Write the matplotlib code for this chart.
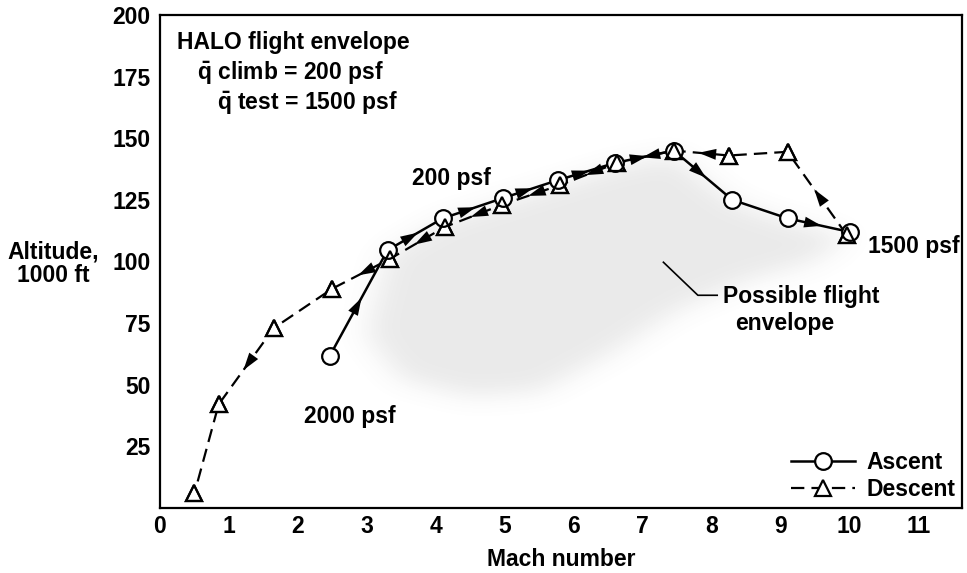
import numpy as np
import matplotlib
matplotlib.use("Agg")
import matplotlib.pyplot as plt
from matplotlib.path import Path

# ---------------- data ----------------
ascent_mach = [2.46, 3.30, 4.10, 4.97, 5.77, 6.60, 7.45, 8.30, 9.10, 10.00]
ascent_alt = [61.6, 104.6, 117.5, 125.7, 133.0, 140.0, 145.0, 125.0, 117.5, 112.0]

descent_mach = [9.96, 9.10, 8.25, 7.45, 6.63, 5.80, 4.96, 4.13, 3.33, 2.50, 1.65, 0.85, 0.50]
descent_alt = [110.7, 144.5, 143.0, 145.0, 140.0, 131.0, 123.0, 114.0, 101.0, 89.0, 73.0, 42.0, 6.0]

# segments (in travel order) that carry a direction arrow
ascent_arrow_segments = [0, 1, 2, 3, 4, 5, 6, 8]
descent_arrow_segments = [0, 2, 3, 4, 5, 6, 7, 8, 10]

# outline of the shaded "possible flight envelope"
envelope_mach = [3.3, 4.1, 5.0, 5.8, 6.6, 7.45, 8.3, 9.1, 10.0, 9.5, 8.5, 7.5, 6.5, 5.5, 4.5, 3.5, 3.0]
envelope_alt = [103, 116, 124, 131, 138, 143, 124, 116, 110, 100, 92, 80, 62, 47, 45, 52, 70]

x_ticks = list(range(0, 12))
y_ticks = [25, 50, 75, 100, 125, 150, 175, 200]

# ---------------- style ----------------
plt.rcParams['font.family'] = ['Liberation Sans', 'DejaVu Sans']
plt.rcParams['font.weight'] = 'bold'
plt.rcParams['mathtext.fontset'] = 'custom'
plt.rcParams['mathtext.rm'] = 'Liberation Sans:bold'
plt.rcParams['mathtext.bf'] = 'Liberation Sans:bold'
plt.rcParams['mathtext.it'] = 'Liberation Sans:bold'
FS = 16.5

fig = plt.figure(figsize=(9.67, 5.73), dpi=100)
ax = fig.add_axes([160/967, 1-508/573, 802/967, 493/573])
ax.set_xlim(0, 11.63)
ax.set_ylim(0, 200)

# shaded envelope (blurred polygon)
gx = np.linspace(1.5, 11.5, 400)
gy = np.linspace(10, 170, 320)
XX, YY = np.meshgrid(gx, gy)
poly = Path(np.column_stack([envelope_mach, envelope_alt]))
mask = poly.contains_points(np.column_stack([XX.ravel(), YY.ravel()])).reshape(XX.shape).astype(float)

def gauss(sig_px):
    n = int(sig_px * 3)
    k = np.exp(-0.5 * (np.arange(-n, n + 1) / sig_px) ** 2)
    return k / k.sum()

kx = gauss(9)
ky = gauss(9)
blur = np.apply_along_axis(lambda r: np.convolve(r, kx, mode='same'), 1, mask)
blur = np.apply_along_axis(lambda c: np.convolve(c, ky, mode='same'), 0, blur)
rgba = np.zeros(blur.shape + (4,))
rgba[..., :3] = 0.45
rgba[..., 3] = 0.15 * blur
ax.imshow(rgba, extent=(gx[0], gx[-1], gy[0], gy[-1]), origin='lower',
          aspect='auto', interpolation='bilinear', zorder=1)

# lines + markers
ax.plot(descent_mach, descent_alt, color='black', lw=1.6, dashes=[6, 3.2],
        marker='^', ms=12, mfc='white', mec='black', mew=1.6, zorder=2, label='Descent')
ax.plot(ascent_mach, ascent_alt, color='black', lw=1.8, marker='o', ms=12,
        mfc='white', mec='black', mew=1.6, zorder=3, label='Ascent')
ax.plot(descent_mach, descent_alt, ls='none', marker='^', ms=12, mfc='none',
        mec='black', mew=1.6, zorder=4)

def add_arrows(xs, ys, segs, frac=0.55):
    for i in segs:
        x0, y0, x1, y1 = xs[i], ys[i], xs[i+1], ys[i+1]
        tail = (x0 + (frac - 0.12) * (x1 - x0), y0 + (frac - 0.12) * (y1 - y0))
        tip = (x0 + frac * (x1 - x0), y0 + frac * (y1 - y0))
        ax.annotate('', xy=tip, xytext=tail,
                    arrowprops=dict(arrowstyle='-|>,head_length=0.9,head_width=0.28',
                                    color='black', lw=0.01, shrinkA=0, shrinkB=0,
                                    mutation_scale=14),
                    zorder=3.5)

add_arrows(ascent_mach, ascent_alt, ascent_arrow_segments)
add_arrows(descent_mach, descent_alt, descent_arrow_segments)

# annotations
ax.text(0.25, 186.1, 'HALO flight envelope', fontsize=FS, fontweight='bold', va='baseline')
ax.text(0.54, 173.5, r'$\bar{\mathrm{q}}$ climb = 200 psf', fontsize=FS, fontweight='bold', va='baseline')
ax.text(0.82, 161.3, r'$\bar{\mathrm{q}}$ test = 1500 psf', fontsize=FS, fontweight='bold', va='baseline')
ax.text(3.66, 130.9, '200 psf', fontsize=FS, fontweight='bold', va='baseline')
ax.text(10.26, 103.4, '1500 psf', fontsize=FS, fontweight='bold', va='baseline')
ax.text(2.09, 34.5, '2000 psf', fontsize=FS, fontweight='bold', va='baseline')
ax.text(8.17, 83.1, 'Possible flight', fontsize=FS, fontweight='bold', va='baseline')
ax.text(8.34, 72.2, 'envelope', fontsize=FS, fontweight='bold', va='baseline')
ax.plot([7.3, 7.8, 8.08], [99.7, 86.3, 86.3], color='black', lw=1.2, zorder=2)

# axes styling
ax.set_xticks(x_ticks)
ax.set_xticklabels([str(v) for v in x_ticks])
ax.set_yticks(y_ticks)
ax.set_yticklabels([str(v) for v in y_ticks])
ax.tick_params(length=0, labelsize=FS, pad=7)
ax.tick_params(axis='x', pad=5)
for lab in ax.get_xticklabels() + ax.get_yticklabels():
    lab.set_fontweight('bold')
for s in ax.spines.values():
    s.set_linewidth(1.6)
    s.set_color('black')

fig.text(561/967, 1-560/573, 'Mach number', fontsize=FS, fontweight='bold', ha='center', va='center')
fig.text(53/967, 1-264/573, 'Altitude,\n1000 ft', fontsize=FS, fontweight='bold',
         ha='center', va='center', linespacing=1.05)

handles, labels = ax.get_legend_handles_labels()
leg = ax.legend(handles[::-1], labels[::-1], loc='lower right', frameon=False, fontsize=FS,
                handlelength=2.8, handletextpad=0.5, labelspacing=0.2,
                borderpad=0.2, borderaxespad=0.1)
for t in leg.get_texts():
    t.set_fontweight('bold')

fig.savefig('out.png', dpi=100)
